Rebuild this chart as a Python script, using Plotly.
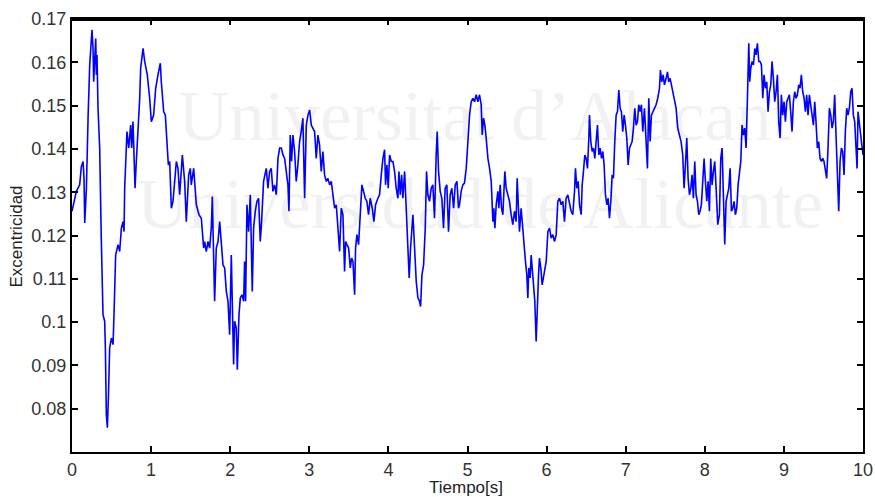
import plotly.graph_objects as go

# Eccentricity time series
tiempo = [
    0.000, 0.055, 0.097, 0.118, 0.140, 0.152, 0.161, 0.182, 0.203, 0.224, 0.253, 0.266, 0.274,
    0.300, 0.308, 0.316, 0.329, 0.350, 0.371, 0.392, 0.413, 0.422, 0.434, 0.447, 0.460, 0.476,
    0.498, 0.519, 0.531, 0.552, 0.582, 0.603, 0.624, 0.645, 0.658, 0.666, 0.695, 0.717, 0.742,
    0.754, 0.771, 0.797, 0.813, 0.835, 0.856, 0.868, 0.898, 0.919, 0.952, 0.982, 1.003, 1.032,
    1.058, 1.087, 1.117, 1.129, 1.159, 1.180, 1.201, 1.218, 1.235, 1.256, 1.277, 1.319, 1.340,
    1.361, 1.395, 1.424, 1.445, 1.475, 1.496, 1.508, 1.538, 1.572, 1.605, 1.635, 1.664,
    1.677, 1.698, 1.719, 1.740, 1.761, 1.774, 1.791, 1.803, 1.824, 1.846, 1.867, 1.888, 1.909,
    1.930, 1.951, 1.972, 1.993, 2.014, 2.026, 2.043, 2.056, 2.077, 2.090, 2.111, 2.128, 2.149,
    2.170, 2.182, 2.195, 2.212, 2.233, 2.254, 2.279, 2.296, 2.317, 2.338, 2.359, 2.380, 2.397,
    2.422, 2.439, 2.456, 2.477, 2.498, 2.519, 2.540, 2.561, 2.583, 2.604, 2.625, 2.646, 2.667,
    2.688, 2.709, 2.730, 2.743, 2.759, 2.776, 2.793, 2.814, 2.835, 2.856, 2.877, 2.898, 2.919,
    2.941, 2.962, 2.983, 3.004, 3.025, 3.046, 3.067, 3.088, 3.109, 3.130, 3.151, 3.172, 3.193,
    3.214, 3.235,
    3.257, 3.278, 3.299, 3.320, 3.341, 3.362, 3.383, 3.404, 3.425, 3.446, 3.459, 3.476, 3.497,
    3.518, 3.535, 3.552, 3.573, 3.585, 3.602, 3.623, 3.644, 3.665, 3.686, 3.707, 3.728, 3.749,
    3.770, 3.796, 3.817, 3.838, 3.867, 3.888, 3.910, 3.931, 3.952, 3.964, 3.981, 3.998, 4.015,
    4.036, 4.057, 4.078, 4.099, 4.120, 4.133, 4.150, 4.167, 4.183, 4.205, 4.226, 4.247, 4.263,
    4.280, 4.297, 4.310, 4.331, 4.352, 4.373, 4.394, 4.407, 4.424, 4.445, 4.466, 4.482, 4.499,
    4.520, 4.541, 4.562, 4.583, 4.604, 4.617, 4.634, 4.655, 4.676, 4.697, 4.718, 4.739, 4.760,
    4.781, 4.802, 4.824, 4.845, 4.866, 4.887,
    4.899, 4.920, 4.941, 4.962, 4.984, 5.005, 5.026, 5.047, 5.068, 5.089, 5.110, 5.131, 5.152,
    5.173, 5.186, 5.203, 5.220, 5.236, 5.258, 5.279, 5.300, 5.321, 5.333, 5.346, 5.363, 5.384,
    5.396, 5.413, 5.430, 5.447, 5.460, 5.472, 5.489, 5.510, 5.531, 5.552, 5.573, 5.594, 5.615,
    5.628, 5.645, 5.657, 5.678, 5.699, 5.721, 5.733, 5.750, 5.763, 5.775, 5.792, 5.805, 5.817,
    5.834, 5.851, 5.868, 5.881, 5.898, 5.910, 5.927, 5.944, 5.961, 5.978, 5.995, 6.016, 6.037,
    6.058, 6.079, 6.100, 6.121, 6.142, 6.163, 6.184, 6.205, 6.226, 6.247, 6.268, 6.289, 6.310,
    6.331, 6.353, 6.365, 6.382, 6.399, 6.416, 6.437, 6.450, 6.466, 6.483, 6.500, 6.517, 6.534,
    6.542, 6.559, 6.576, 6.593, 6.610, 6.626, 6.643, 6.660, 6.677, 6.694, 6.711, 6.727, 6.744,
    6.761, 6.778, 6.795, 6.812, 6.829, 6.845, 6.862, 6.879, 6.896, 6.913, 6.930, 6.946, 6.963,
    6.980, 6.997, 7.014, 7.031, 7.048, 7.064, 7.081, 7.098, 7.115, 7.132, 7.149, 7.165, 7.182,
    7.199, 7.216, 7.237, 7.258, 7.275, 7.292, 7.309, 7.325, 7.342, 7.363, 7.384, 7.405, 7.427,
    7.439, 7.456, 7.473, 7.490, 7.511, 7.528, 7.544, 7.561, 7.578, 7.595, 7.616, 7.637, 7.658,
    7.679, 7.700, 7.721, 7.738, 7.755, 7.772, 7.789, 7.806, 7.823, 7.839, 7.856, 7.873, 7.890,
    7.907, 7.924, 7.940, 7.957, 7.974, 7.991, 8.008, 8.025, 8.042, 8.058, 8.075, 8.092, 8.109,
    8.126, 8.143, 8.164,
    8.185, 8.202, 8.219, 8.236, 8.252, 8.269, 8.286, 8.303, 8.320, 8.337, 8.354, 8.370, 8.387,
    8.404, 8.421, 8.438, 8.455, 8.471, 8.488, 8.505, 8.522, 8.539, 8.556, 8.568, 8.581, 8.598,
    8.615, 8.632, 8.648, 8.665, 8.682, 8.699, 8.716, 8.733, 8.749, 8.766, 8.783, 8.800, 8.817,
    8.834, 8.850, 8.867, 8.884, 8.901, 8.918, 8.935, 8.952, 8.968, 8.985, 9.002, 9.019, 9.036,
    9.053, 9.069, 9.086, 9.103, 9.120, 9.137, 9.154, 9.171, 9.187, 9.204, 9.221, 9.238, 9.255,
    9.272, 9.288, 9.305, 9.322, 9.339, 9.356, 9.373, 9.390, 9.406, 9.423, 9.440, 9.457, 9.474,
    9.491, 9.507, 9.524, 9.541, 9.558, 9.575, 9.592, 9.609, 9.625, 9.642, 9.659, 9.676, 9.693,
    9.710, 9.727, 9.743, 9.760, 9.777, 9.794, 9.811, 9.828, 9.845, 9.861, 9.878, 9.895, 9.912,
    9.925, 9.937, 9.954, 9.971, 9.988, 10.000,
]

excentricidad = [
    0.1256, 0.1302, 0.1317, 0.1359, 0.1371, 0.1332, 0.1229, 0.1309, 0.1471, 0.1594, 0.1675, 0.1632, 0.1555,
    0.1655, 0.1571, 0.1617, 0.1494, 0.1402, 0.1186, 0.1017, 0.1002, 0.0940, 0.0786, 0.0756, 0.0825, 0.0940,
    0.0963, 0.0948, 0.1017, 0.1155, 0.1179, 0.1163, 0.1217, 0.1232, 0.1209, 0.1309, 0.1440, 0.1402, 0.1455,
    0.1402, 0.1463, 0.1309, 0.1371, 0.1440, 0.1517, 0.1586, 0.1632, 0.1602, 0.1571, 0.1517, 0.1463, 0.1478,
    0.1540, 0.1571, 0.1598, 0.1555, 0.1486, 0.1478, 0.1417, 0.1363, 0.1371, 0.1263, 0.1279, 0.1371, 0.1355,
    0.1294, 0.1386, 0.1325, 0.1232, 0.1340, 0.1355, 0.1317, 0.1355, 0.1271, 0.1248, 0.1240, 0.1171,
    0.1186, 0.1163, 0.1186, 0.1171, 0.1217, 0.1290, 0.1171, 0.1048, 0.1171, 0.1186, 0.1232, 0.1186, 0.1132,
    0.1125, 0.1071, 0.1048, 0.0971, 0.1155, 0.1017, 0.0902, 0.1002, 0.0986, 0.0890, 0.1017, 0.1056, 0.1063,
    0.1048, 0.1140, 0.1048, 0.1271, 0.1209, 0.1294, 0.1071, 0.1217, 0.1256, 0.1279, 0.1286, 0.1186, 0.1232,
    0.1325, 0.1340, 0.1355, 0.1309, 0.1348, 0.1355, 0.1302, 0.1317, 0.1294, 0.1378, 0.1402, 0.1402, 0.1386,
    0.1378, 0.1340, 0.1317, 0.1256, 0.1432, 0.1371, 0.1432, 0.1394, 0.1325, 0.1363, 0.1417, 0.1440, 0.1471,
    0.1286, 0.1455, 0.1478, 0.1490, 0.1455, 0.1448, 0.1440, 0.1378, 0.1432, 0.1409, 0.1348, 0.1394, 0.1340,
    0.1325, 0.1332,
    0.1317, 0.1325, 0.1294, 0.1263, 0.1271, 0.1209, 0.1163, 0.1263, 0.1248, 0.1117, 0.1186, 0.1179, 0.1171,
    0.1125, 0.1148, 0.1140, 0.1063, 0.1171, 0.1202, 0.1179, 0.1248, 0.1317, 0.1302, 0.1286, 0.1279, 0.1248,
    0.1286, 0.1263, 0.1232, 0.1271, 0.1286, 0.1294, 0.1340, 0.1378, 0.1398, 0.1317, 0.1363, 0.1309, 0.1386,
    0.1371, 0.1371, 0.1348, 0.1309, 0.1286, 0.1348, 0.1294, 0.1340, 0.1286, 0.1348, 0.1248, 0.1171, 0.1102,
    0.1171, 0.1225, 0.1248, 0.1171, 0.1094, 0.1056, 0.1048, 0.1036, 0.1109, 0.1132, 0.1217, 0.1348, 0.1294,
    0.1279, 0.1309, 0.1317, 0.1240, 0.1386, 0.1440, 0.1348, 0.1302, 0.1286, 0.1217, 0.1309, 0.1317, 0.1209,
    0.1294, 0.1309, 0.1263, 0.1317, 0.1325, 0.1263,
    0.1271, 0.1302, 0.1317, 0.1321, 0.1355, 0.1417, 0.1478, 0.1509, 0.1517, 0.1509, 0.1525, 0.1509, 0.1525,
    0.1502, 0.1432, 0.1471, 0.1455, 0.1425, 0.1378, 0.1355, 0.1325, 0.1232, 0.1263, 0.1217, 0.1271, 0.1302,
    0.1263, 0.1317, 0.1263, 0.1248, 0.1309, 0.1348, 0.1309, 0.1294, 0.1279, 0.1248, 0.1225, 0.1256, 0.1232,
    0.1332, 0.1240, 0.1209, 0.1263, 0.1209, 0.1155, 0.1140, 0.1109, 0.1056, 0.1125, 0.1102, 0.1155, 0.1125,
    0.1094, 0.1048, 0.0955, 0.1040, 0.1109, 0.1148, 0.1125, 0.1086, 0.1102, 0.1125, 0.1140, 0.1209, 0.1217,
    0.1194, 0.1202, 0.1186, 0.1202, 0.1279, 0.1286, 0.1271, 0.1279, 0.1232, 0.1286, 0.1294, 0.1271, 0.1256,
    0.1248, 0.1302, 0.1355, 0.1309, 0.1325, 0.1271, 0.1248, 0.1317, 0.1348, 0.1386, 0.1378, 0.1355, 0.1425,
    0.1478, 0.1417, 0.1394, 0.1402, 0.1378, 0.1417, 0.1455, 0.1386, 0.1402, 0.1378, 0.1394, 0.1363, 0.1294,
    0.1271, 0.1286, 0.1240, 0.1279, 0.1340, 0.1332, 0.1417, 0.1478, 0.1486, 0.1536, 0.1494, 0.1486, 0.1440,
    0.1478, 0.1455, 0.1425, 0.1363, 0.1402, 0.1409, 0.1417, 0.1448, 0.1494, 0.1455, 0.1463, 0.1502, 0.1486,
    0.1502, 0.1440, 0.1494, 0.1417, 0.1355, 0.1517, 0.1417, 0.1478, 0.1486, 0.1494, 0.1502, 0.1517, 0.1540,
    0.1582, 0.1555, 0.1571, 0.1548, 0.1563, 0.1578, 0.1555, 0.1563, 0.1548, 0.1532, 0.1509, 0.1494, 0.1448,
    0.1432, 0.1417, 0.1386, 0.1309, 0.1363, 0.1425, 0.1332, 0.1294, 0.1309, 0.1340, 0.1286, 0.1371, 0.1294,
    0.1279, 0.1248, 0.1256, 0.1271, 0.1325, 0.1378, 0.1325, 0.1279, 0.1325, 0.1256, 0.1378, 0.1317, 0.1348,
    0.1371, 0.1309, 0.1225,
    0.1248, 0.1378, 0.1402, 0.1279, 0.1179, 0.1279, 0.1294, 0.1309, 0.1355, 0.1256, 0.1263, 0.1279, 0.1248,
    0.1263, 0.1317, 0.1348, 0.1371, 0.1455, 0.1432, 0.1448, 0.1402, 0.1517, 0.1644, 0.1555, 0.1586, 0.1602,
    0.1594, 0.1632, 0.1617, 0.1644, 0.1602, 0.1602, 0.1594, 0.1517, 0.1571, 0.1540, 0.1555, 0.1486, 0.1532,
    0.1548, 0.1602, 0.1563, 0.1509, 0.1532, 0.1571, 0.1463, 0.1425, 0.1525, 0.1478, 0.1509, 0.1463, 0.1509,
    0.1517, 0.1525, 0.1486, 0.1440, 0.1509, 0.1532, 0.1517, 0.1525, 0.1548, 0.1540, 0.1571, 0.1532, 0.1517,
    0.1486, 0.1525, 0.1478, 0.1525, 0.1494, 0.1478, 0.1455, 0.1509, 0.1463, 0.1402, 0.1417, 0.1378, 0.1371,
    0.1378, 0.1371, 0.1355, 0.1332, 0.1402, 0.1494, 0.1478, 0.1448, 0.1463, 0.1525, 0.1432, 0.1340, 0.1256,
    0.1371, 0.1402, 0.1394, 0.1340, 0.1440, 0.1494, 0.1478, 0.1494, 0.1532, 0.1540, 0.1478, 0.1463, 0.1402,
    0.1355, 0.1486, 0.1455, 0.1425, 0.1402, 0.1386,
]

x_ticks = list(range(0, 11))
y_ticks = [0.08, 0.09, 0.10, 0.11, 0.12, 0.13, 0.14, 0.15, 0.16, 0.17]
y_tick_text = ["0.08", "0.09", "0.1", "0.11", "0.12", "0.13", "0.14", "0.15", "0.16", "0.17"]

FONT = "Liberation Sans, Arial, sans-serif"
SERIF = "Liberation Serif, Times New Roman, serif"

fig = go.Figure()
fig.add_trace(go.Scatter(
    x=tiempo, y=excentricidad, mode="lines",
    line=dict(color="#0000ff", width=1.6),
    hoverinfo="skip", showlegend=False,
))

axis_common = dict(
    showline=True, linecolor="black", linewidth=2, mirror="ticks",
    ticks="inside", ticklen=6, tickwidth=2, tickcolor="black",
    showgrid=False, zeroline=False, automargin=False,
    tickfont=dict(family=FONT, size=18, color="#333333"),
)

fig.update_xaxes(range=[0, 10], tickvals=x_ticks, **axis_common)
fig.update_yaxes(range=[0.07, 0.17], tickvals=y_ticks, ticktext=y_tick_text, **axis_common)

watermark = "rgba(0,0,0,0.055)"
annotations = [
    dict(text="Universitat d\u2019Alacant", xref="paper", yref="paper", x=0.5216, y=0.775,
         xanchor="center", yanchor="middle", showarrow=False,
         font=dict(family=SERIF, size=71, color=watermark)),
    dict(text="Universidad de Alicante", xref="paper", yref="paper", x=0.5155, y=0.572,
         xanchor="center", yanchor="middle", showarrow=False,
         font=dict(family=SERIF, size=71, color=watermark)),
    dict(text="Tiempo[s]", xref="paper", yref="paper", x=0.498, y=-0.1085,
         xanchor="center", yanchor="bottom", showarrow=False,
         font=dict(family=FONT, size=17, color="#222222")),
    dict(text="Excentricidad", xref="paper", yref="paper", x=-0.0699, y=0.497,
         xanchor="center", yanchor="middle", showarrow=False, textangle=-90,
         font=dict(family=FONT, size=17, color="#222222")),
]

fig.update_layout(
    width=875, height=497,
    margin=dict(l=72, r=12, t=19, b=45, autoexpand=False),
    paper_bgcolor="white", plot_bgcolor="white",
    annotations=annotations,
    shapes=[dict(type="line", xref="paper", yref="paper", x0=0, x1=1, y0=1, y1=1,
                 line=dict(color="black", width=4))],
)

fig.write_html("out.html")
